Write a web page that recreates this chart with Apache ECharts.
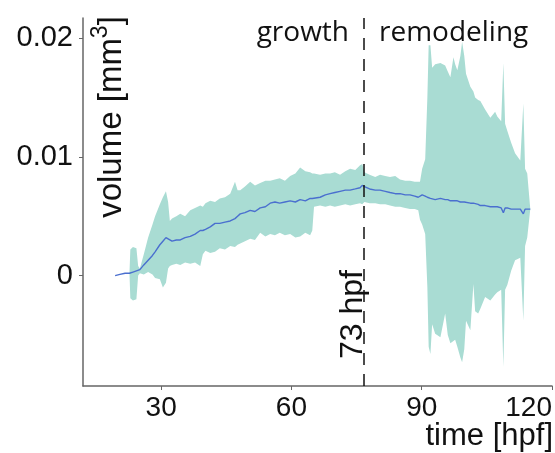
<!DOCTYPE html>
<html>
<head>
<meta charset="utf-8">
<script src="https://cdn.jsdelivr.net/npm/echarts@6/dist/echarts.min.js"></script>
<style>
  html, body { margin: 0; padding: 0; background: #fff; }
  #chart { width: 555px; height: 453px; }
</style>
</head>
<body>
<div id="chart"></div>
<script>
// time points [hpf]
var hours = [19.4, 20.5, 21.7, 22.7, 22.9, 23.5, 24.3, 24.7, 25.1, 26.0, 27.0, 28.0, 28.6, 29.7, 30.4, 31.1, 31.6, 32.0, 32.5, 33.5,
  34.4, 35.5, 36.7, 37.8, 39.0, 39.6, 40.2, 41.3, 42.4, 43.5, 44.7, 45.9, 47.0, 47.6, 48.2, 49.3, 50.5, 51.6, 52.8, 54.0,
  55.1, 56.2, 57.3, 58.5, 59.7, 60.9, 62.0, 63.2, 64.3, 64.8, 65.2, 66.6, 67.8, 68.9, 70.0, 71.2, 72.4, 73.5, 74.7, 75.8,
  76.3, 76.8, 78.0, 79.3, 80.4, 81.6, 82.7, 83.9, 85.0, 86.2, 87.3, 88.4, 89.2, 89.6, 90.1, 90.8, 91.3, 91.6, 92.0, 92.4,
  93.1, 94.3, 95.4, 96.0, 96.6, 97.3, 97.7, 98.2, 98.9, 99.3, 99.8, 100.2, 101.2, 101.9, 102.3, 103.0, 103.5, 104.6, 105.8, 106.9,
  107.4, 108.3, 108.8, 109.2, 109.7, 110.6, 111.5, 112.7, 113.4, 113.8, 114.3, 115.0];

// mean volume [mm^3]
var meanVol = [0.0000, 0.0001, 0.0002, 0.0002, 0.0002, 0.0003, 0.0004, 0.0004, 0.0005, 0.0009, 0.0013, 0.0017, 0.0020, 0.0026, 0.0029, 0.0032, 0.0031, 0.0030, 0.0029, 0.0030,
  0.0030, 0.0032, 0.0033, 0.0035, 0.0038, 0.0038, 0.0039, 0.0041, 0.0044, 0.0044, 0.0045, 0.0046, 0.0048, 0.0050, 0.0052, 0.0053, 0.0055, 0.0054, 0.0057, 0.0058,
  0.0061, 0.0062, 0.0061, 0.0062, 0.0063, 0.0062, 0.0064, 0.0063, 0.0065, 0.0065, 0.0066, 0.0066, 0.0068, 0.0069, 0.0070, 0.0071, 0.0072, 0.0072, 0.0073, 0.0074,
  0.0076, 0.0075, 0.0073, 0.0072, 0.0072, 0.0071, 0.0070, 0.0069, 0.0069, 0.0068, 0.0068, 0.0067, 0.0066, 0.0066, 0.0068, 0.0067, 0.0066, 0.0066, 0.0065, 0.0065,
  0.0064, 0.0065, 0.0064, 0.0064, 0.0063, 0.0063, 0.0063, 0.0063, 0.0062, 0.0062, 0.0062, 0.0062, 0.0061, 0.0061, 0.0060, 0.0060, 0.0059, 0.0059, 0.0058, 0.0058,
  0.0058, 0.0057, 0.0053, 0.0057, 0.0057, 0.0056, 0.0056, 0.0056, 0.0052, 0.0056, 0.0056, 0.0056];

// lower / upper edge of the shaded band
var lowerVol = [0.0000, 0.0001, 0.0002, 0.0002, -0.0019, -0.0021, -0.0020, 0.0000, 0.0002, 0.0001, 0.0003, 0.0001, -0.0002, -0.0003, -0.0010, -0.0006, 0.0006, 0.0008, 0.0009, 0.0010,
  0.0009, 0.0011, 0.0010, 0.0011, 0.0008, 0.0018, 0.0021, 0.0019, 0.0020, 0.0023, 0.0022, 0.0025, 0.0024, 0.0026, 0.0027, 0.0029, 0.0031, 0.0030, 0.0036, 0.0033,
  0.0035, 0.0034, 0.0036, 0.0034, 0.0035, 0.0032, 0.0033, 0.0036, 0.0034, 0.0038, 0.0058, 0.0059, 0.0058, 0.0059, 0.0058, 0.0059, 0.0060, 0.0059, 0.0060, 0.0061,
  0.0060, 0.0062, 0.0061, 0.0061, 0.0060, 0.0060, 0.0059, 0.0058, 0.0058, 0.0057, 0.0056, 0.0056, 0.0055, 0.0047, 0.0043, 0.0035, -0.0010, -0.0060, -0.0066, -0.0041,
  -0.0049, -0.0052, -0.0032, -0.0050, -0.0057, -0.0055, -0.0054, -0.0060, -0.0069, -0.0073, -0.0062, -0.0038, -0.0046, -0.0007, -0.0030, -0.0032, -0.0028, -0.0018, -0.0021, -0.0016,
  -0.0014, -0.0012, -0.0077, -0.0012, -0.0008, 0.0004, 0.0013, 0.0015, -0.0038, 0.0025, 0.0032, 0.0056];

var upperVol = [0.0000, 0.0001, 0.0002, 0.0002, 0.0022, 0.0024, 0.0023, 0.0008, 0.0006, 0.0018, 0.0032, 0.0043, 0.0050, 0.0060, 0.0066, 0.0071, 0.0062, 0.0046, 0.0048, 0.0050,
  0.0052, 0.0050, 0.0055, 0.0057, 0.0059, 0.0058, 0.0061, 0.0063, 0.0062, 0.0065, 0.0066, 0.0069, 0.0079, 0.0072, 0.0072, 0.0075, 0.0079, 0.0076, 0.0078, 0.0080,
  0.0080, 0.0081, 0.0082, 0.0080, 0.0084, 0.0086, 0.0091, 0.0088, 0.0087, 0.0086, 0.0086, 0.0085, 0.0086, 0.0086, 0.0087, 0.0085, 0.0088, 0.0090, 0.0089, 0.0093,
  0.0094, 0.0087, 0.0085, 0.0083, 0.0085, 0.0084, 0.0083, 0.0084, 0.0081, 0.0080, 0.0080, 0.0079, 0.0079, 0.0079, 0.0090, 0.0098, 0.0150, 0.0194, 0.0194, 0.0175,
  0.0178, 0.0179, 0.0177, 0.0172, 0.0167, 0.0184, 0.0178, 0.0173, 0.0185, 0.0197, 0.0185, 0.0170, 0.0159, 0.0155, 0.0150, 0.0148, 0.0147, 0.0140, 0.0133, 0.0138,
  0.0134, 0.0130, 0.0179, 0.0128, 0.0122, 0.0112, 0.0103, 0.0097, 0.0145, 0.0090, 0.0086, 0.0056];

var xTicks = [30, 60, 90, 120];
var yTicks = [0, 0.01, 0.02];
var boundaryHpf = 76.7;   // where the dashed line sits on the axis

var bandData = hours.map(function (h, i) { return [h, lowerVol[i], upperVol[i]]; });
var meanLine = hours.map(function (h, i) { return [h, meanVol[i]]; });

// whole band drawn as one polygon: upper edge forward, lower edge back
function renderBand(params, api) {
  if (params.dataIndex !== 0) return;
  var pts = [];
  for (var i = 0; i < hours.length; i++) pts.push(api.coord([hours[i], upperVol[i]]));
  for (var j = hours.length - 1; j >= 0; j--) pts.push(api.coord([hours[j], lowerVol[j]]));
  return {
    type: 'polygon',
    shape: { points: pts },
    style: { fill: '#a9dcd3' },
    silent: true
  };
}

var chart = echarts.init(document.getElementById('chart'));
var sans = 'Liberation Sans';

chart.setOption({
  animation: false,
  grid: { left: 83, right: 3, top: 18, bottom: 67 },
  xAxis: {
    type: 'value',
    min: 12,
    max: 120,
    axisLine: { onZero: false, lineStyle: { color: '#666', width: 1.5 } },
    axisTick: { customValues: xTicks, length: 4, lineStyle: { color: '#666' } },
    axisLabel: {
      customValues: xTicks,
      alignMaxLabel: 'right',
      fontFamily: sans, fontSize: 28, color: '#111', margin: 8
    },
    splitLine: { show: false }
  },
  yAxis: {
    type: 'value',
    min: -0.0093,
    max: 0.0217,
    axisLine: { show: true, lineStyle: { color: '#666', width: 1.5 } },
    axisTick: { show: true, customValues: yTicks, length: 4, lineStyle: { color: '#666' } },
    axisLabel: {
      customValues: yTicks,
      fontFamily: sans, fontSize: 29, color: '#111', margin: 10,
      formatter: function (v) { return v === 0 ? '0' : v.toFixed(2); }
    },
    splitLine: { show: false }
  },
  series: [
    {
      type: 'custom',
      data: bandData,
      encode: { x: 0, y: [1, 2] },
      renderItem: renderBand,
      silent: true,
      z: 1
    },
    {
      type: 'line',
      data: meanLine,
      symbol: 'none',
      z: 3,
      lineStyle: { color: '#4a6fcf', width: 1.4 },
      markLine: {
        symbol: 'none',
        silent: true,
        lineStyle: { color: '#111', width: 1.5, type: [12, 9] },
        label: {
          formatter: '73 hpf',
          position: 'insideStartTop',
          distance: [27, -5],
          fontFamily: sans, fontSize: 32, color: '#111'
        },
        data: [{ xAxis: boundaryHpf }]
      }
    }
  ],
  graphic: [
    {
      type: 'text', z: 100,
      style: { x: 349, y: 47, text: 'growth', textAlign: 'right', textVerticalAlign: 'bottom',
        font: '28px "Open Sans"', fill: '#111' }
    },
    {
      type: 'text', z: 100,
      style: { x: 379, y: 47, text: 'remodeling', textAlign: 'left', textVerticalAlign: 'bottom',
        font: '28px "Open Sans"', fill: '#111' }
    },
    {
      type: 'text', z: 100,
      x: 112, y: 117, rotation: Math.PI / 2,
      style: {
        text: 'volume [mm{sup|3}]',
        textAlign: 'center', textVerticalAlign: 'middle',
        fontFamily: sans, fontSize: 33, fill: '#111',
        rich: { sup: { fontFamily: sans, fontSize: 23, fill: '#111', padding: [0, 0, 22, 0] } }
      }
    },
    {
      type: 'text', z: 100,
      style: { x: 553, y: 452, text: 'time [hpf]', textAlign: 'right', textVerticalAlign: 'bottom',
        fontFamily: sans, fontSize: 31, fill: '#111' }
    }
  ]
});
</script>
</body>
</html>
